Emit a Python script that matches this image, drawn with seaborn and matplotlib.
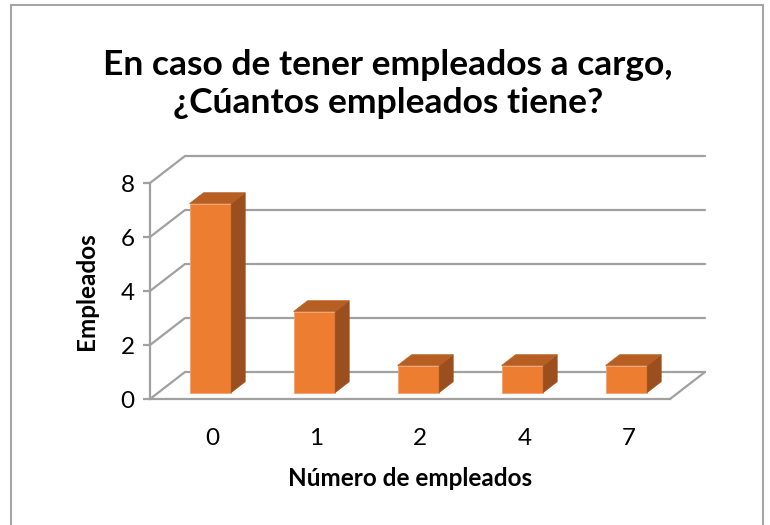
import numpy as np
import pandas as pd
import matplotlib
matplotlib.use("Agg")
import matplotlib.pyplot as plt
from matplotlib.patches import Polygon, Rectangle
from matplotlib.lines import Line2D
import seaborn as sns

# ---- data ----
categories = ["0", "1", "2", "4", "7"]
values = [7, 3, 1, 1, 1]
yticks = [0, 2, 4, 6, 8]
title = "En caso de tener empleados a cargo,\n¿Cúantos empleados tiene?"
xlabel = "Número de empleados"
ylabel = "Empleados"

df = pd.DataFrame({"cat": categories, "val": values})

sns.set_theme(style="white")
plt.rcParams["font.family"] = ["Lato", "DejaVu Sans"]

W, H = 770, 525
fig = plt.figure(figsize=(W / 100, H / 100), dpi=100)
fig.patch.set_facecolor("white")

# chart border
fig.add_artist(Rectangle((11 / W, -0.05), (763 - 11) / W, 1.05 - 5 / H,
                         transform=fig.transFigure, fill=False,
                         edgecolor="#a6a6a6", lw=1.5))

# front plane of the 3D box
x0, x1 = 150, 670
y0, y1 = 399, 183
ax = fig.add_axes([x0 / W, (H - y0) / H, (x1 - x0) / W, (y0 - y1) / H])
ax.set_facecolor("none")

grid_c = "#a0a0a0"
front_c = "#ED7D31"
side_c = "#9C4F1E"
top_c = "#B75E22"

sns.barplot(data=df, x="cat", y="val", color=front_c, width=0.4,
            saturation=1, ax=ax, zorder=3)

ax.set_xlim(-0.5, 4.5)
ax.set_ylim(0, 8)

# depth of the box in data units
DX = 35 / 104.0
DY = 1.0
f_front, f_back = 0.24, 0.64

# back wall + left wall gridlines
for v in yticks:
    ax.add_line(Line2D([-0.5, -0.5 + DX, 4.5 + DX], [v, v + DY, v + DY],
                       color=grid_c, lw=1.6, clip_on=False, zorder=1))
# floor right edge
ax.add_line(Line2D([4.5, 4.5 + DX], [0, DY], color=grid_c, lw=1.6,
                   clip_on=False, zorder=1))

# bars: shift front faces back and add side/top faces
for p in list(ax.patches):
    if not isinstance(p, Rectangle):
        continue
    w = p.get_width()
    h = p.get_height()
    xl = p.get_x() + f_front * DX
    yb = f_front * DY
    p.set_x(xl)
    p.set_y(yb)
    p.set_edgecolor("#f4a070")
    p.set_linewidth(0.6)
    ddx = (f_back - f_front) * DX
    ddy = (f_back - f_front) * DY
    xr = xl + w
    yt = yb + h
    side = Polygon([[xr, yb], [xr + ddx, yb + ddy], [xr + ddx, yt + ddy], [xr, yt]],
                   closed=True, facecolor=side_c, edgecolor=side_c, lw=0.5,
                   zorder=3, clip_on=False)
    top = Polygon([[xl, yt], [xr, yt], [xr + ddx, yt + ddy], [xl + ddx, yt + ddy]],
                  closed=True, facecolor=top_c, edgecolor=top_c, lw=0.5,
                  zorder=3, clip_on=False)
    ax.add_patch(side)
    ax.add_patch(top)

# spines
for s in ["top", "right"]:
    ax.spines[s].set_visible(False)
for s in ["left", "bottom"]:
    ax.spines[s].set_color(grid_c)
    ax.spines[s].set_linewidth(1.6)
    ax.spines[s].set_zorder(2)

ax.set_yticks(yticks)
ax.set_yticklabels([str(v) for v in yticks])
ax.tick_params(axis="y", length=5, width=1.6, color=grid_c, pad=6,
               labelsize=17.5, labelcolor="black", left=True)
ax.set_xticks(np.arange(len(categories)) + 0.1)
ax.set_xticklabels(categories)
ax.tick_params(axis="x", length=0, pad=21, labelsize=17.5, labelcolor="black")

ax.set_xlabel(xlabel, fontsize=17.5, fontweight="bold", color="black")
ax.xaxis.set_label_coords(0.5, -0.315)
ax.set_ylabel(ylabel, fontsize=17.5, fontweight="bold", color="black")
ax.yaxis.set_label_coords(-0.10, 0.5)

fig.text(388 / W, 1 - 84 / H, title, ha="center", va="center",
         fontsize=25.5, fontweight="bold", color="black", linespacing=1.2)

fig.savefig("out.png", dpi=100, facecolor="white")
